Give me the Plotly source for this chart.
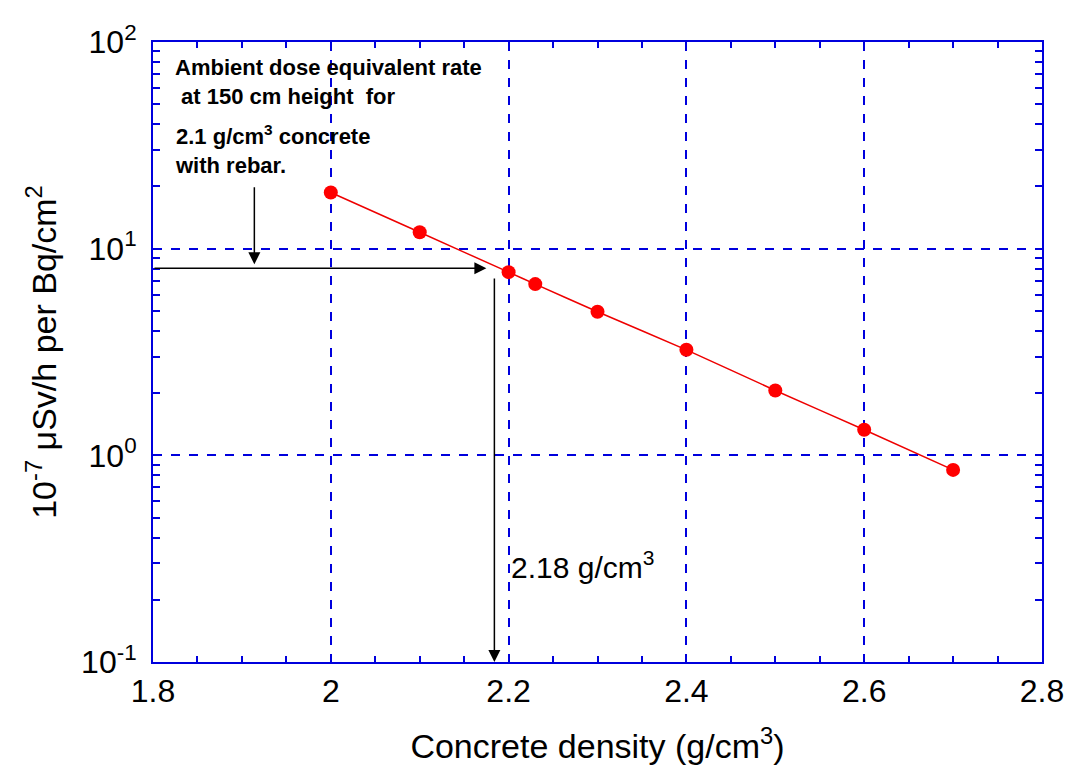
import numpy as np
import plotly.graph_objects as go

# data
density = [2.0, 2.1, 2.2, 2.23, 2.3, 2.4, 2.5, 2.6, 2.7]
dose_rate = [18.7, 12.0, 7.7, 6.74, 4.95, 3.24, 2.06, 1.33, 0.85]

x_ticks = [1.8, 2.0, 2.2, 2.4, 2.6, 2.8]
x_ticktext = ['1.8', '2', '2.2', '2.4', '2.6', '2.8']
y_ticks = [0.1, 1, 10, 100]
y_ticktext = ['10<sup>-1</sup>', '10<sup>0</sup>', '10<sup>1</sup>', '10<sup>2</sup>']

# reading for 2.1 g/cm3 concrete with rebar
ref_rate = 8.04
ref_density = 2.184

blue = '#0000dd'
font = 'Liberation Sans, Arial, sans-serif'

fig = go.Figure()
fig.add_trace(go.Scatter(
    x=density, y=dose_rate, mode='lines+markers',
    line=dict(color='#ee0000', width=1.5, shape='spline', smoothing=0.6),
    marker=dict(color='#ff0000', size=14),
    showlegend=False))

minor_x = [round(1.8 + 0.05 * i, 2) for i in range(21)]
minor_y = [m * 10.0 ** e for e in range(-1, 2) for m in range(2, 10)]

axis_common = dict(showline=True, linecolor=blue, linewidth=2, mirror='allticks',
                   ticks='inside', tickcolor=blue, tickwidth=2, ticklen=6,
                   showgrid=True, gridcolor=blue, griddash='dash', gridwidth=1.5,
                   zeroline=False, tickfont=dict(family=font, size=32, color='black'))

fig.update_xaxes(range=[1.8, 2.8], tickmode='array', tickvals=x_ticks, ticktext=x_ticktext,
                 minor=dict(tickvals=minor_x, ticks='inside', ticklen=6, tickcolor=blue, tickwidth=2,
                            showgrid=False),
                 title=dict(text='Concrete density (g/cm<sup>3</sup>)', standoff=26,
                            font=dict(family=font, size=34, color='black')),
                 **axis_common)
fig.update_yaxes(type='log', range=[-1, 2], tickmode='array', tickvals=y_ticks, ticktext=y_ticktext,
                 ticklabelstandoff=8,
                 minor=dict(tickvals=minor_y, ticks='inside', ticklen=7, tickcolor=blue, tickwidth=2,
                            showgrid=False),
                 title=dict(text='10<sup>-7</sup> \u03bcSv/h per Bq/cm<sup>2</sup>', standoff=14,
                            font=dict(family=font, size=34, color='black')),
                 **axis_common)

arrow = dict(showarrow=True, arrowhead=2, arrowsize=1.6, arrowwidth=1.5, arrowcolor='black',
             xref='x', yref='y', axref='x', ayref='y', text='')
# horizontal arrow from the axis to the curve
fig.add_annotation(x=2.175, y=np.log10(ref_rate), ax=1.8, ay=np.log10(ref_rate), **arrow)
# vertical arrow down to the density axis
fig.add_annotation(x=ref_density, y=-1, ax=ref_density, ay=np.log10(7.3), **arrow)
# small arrow from the label
fig.add_annotation(x=1.914, y=0.924, ax=1.914, ay=1.305, **arrow)

fig.add_annotation(x=1.823, y=1.805, xref='x', yref='y', xanchor='left', yanchor='middle', align='left',
                   showarrow=False,
                   text='<b>Ambient dose equivalent rate<br> at 150 cm height  for</b>',
                   font=dict(family=font, size=22, color='black'))
fig.add_annotation(x=1.823, y=1.48, xref='x', yref='y', xanchor='left', yanchor='middle', align='left',
                   showarrow=False,
                   text='<b>2.1 g/cm<sup>3</sup> concrete<br>with rebar.</b>',
                   font=dict(family=font, size=22, color='black'))
fig.add_annotation(x=2.2, y=-0.53, xref='x', yref='y', xanchor='left', yanchor='middle',
                   showarrow=False, text='2.18 g/cm<sup>3</sup>',
                   font=dict(family=font, size=30, color='black'))

# page body adds 8px, so margins are shifted to keep the plot box in place
fig.update_layout(width=1078, height=773, margin=dict(l=145, r=44, t=24, b=119),
                  plot_bgcolor='white', paper_bgcolor='white', font=dict(family=font))

fig.write_html('out.html')
